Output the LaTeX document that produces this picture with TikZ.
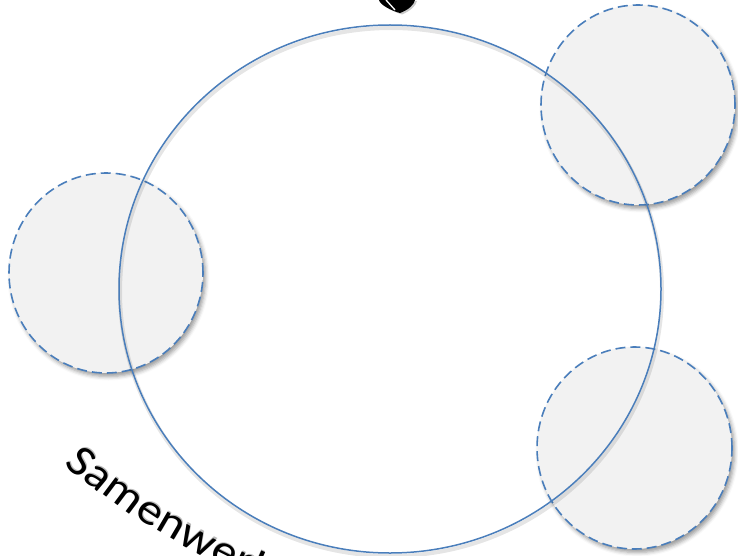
\documentclass[tikz,border=0pt]{standalone}
\usepackage{fontspec}
\setmainfont{Carlito}
\newfontfamily\widefont[FakeStretch=1.12]{Carlito}
\usetikzlibrary{shapes.geometric,shadows.blur}
\definecolor{lineblue}{HTML}{4A7EBB}
\definecolor{softgray}{HTML}{F2F2F2}
\tikzset{
  satellite/.style={ellipse, draw=lineblue, fill=softgray, line width=1.6pt,
    dash pattern=on 10pt off 5pt, inner sep=0pt,
    blur shadow={shadow xshift=2.5pt, shadow yshift=-3.5pt, shadow blur radius=4pt, shadow opacity=40}},
  hub/.style={ellipse, draw=lineblue, line width=1.5pt, inner sep=0pt},
  hubshadow/.style={ellipse, draw=black, draw opacity=0.10, line width=4pt, inner sep=0pt},
  letter/.style={font=\widefont\fontsize{44}{44}\selectfont, inner sep=0pt, anchor=base, text=black},
  lettershadow/.style={letter, text=black!45, text opacity=0.6}
}
\begin{document}
\begin{tikzpicture}[x=1pt,y=1pt]
\useasboundingbox (0,0) rectangle (738,-556);
\clip (0,0) rectangle (738,-556);
% satellites
\node[satellite, minimum width=194pt, minimum height=200pt] (sattr) at (638,-105) {};
\node[satellite, minimum width=194pt, minimum height=200pt] (satl) at (106,-273) {};
\node[satellite, minimum width=195pt, minimum height=202pt] (satbr) at (634.5,-448) {};
% hub circle with a faint shadow ring
\node[hubshadow, minimum width=542pt, minimum height=528pt] (hubsh) at (391,-292) {};
\node[hub, minimum width=542pt, minimum height=528pt] (hubc) at (390,-289) {};
% fragment of a glyph at the top edge
\fill[black!35, opacity=0.6] (381,-1) .. controls (382,-6) and (394,-12) .. (402,-14.5) .. controls (410,-11) and (416,-6) .. (417,-1) -- cycle;
\fill[black] (379,0) .. controls (380,-5) and (392,-11) .. (400,-13) .. controls (408,-10) and (414,-5) .. (415,0) -- cycle;
\draw[white, line width=1.3pt] (386,0) -- (395,-10);
% warped label along the bottom-left
\begin{scope}[rotate around={-4:(78,-464)}]
\coordinate (tc) at (587.5,314.4);
\foreach \a/\w/\l in {236.79/5/S, 238.21/4/a, 240.15/3/m, 242.12/1.5/e, 243.68/0/n, 245.56/0/w,
  247.40/0/e, 248.68/0/r, 249.90/0/k, 250.94/0/i, 252.08/0/n, 253.60/0/g}{
  \node[lettershadow, rotate=\a+86-\w] at ([shift={(\a:939.5)}]tc) {\l};
  \node[letter, rotate=\a+86-\w] at ([shift={(\a:941)}]tc) {\l};
}
\end{scope}
\end{tikzpicture}
\end{document}
